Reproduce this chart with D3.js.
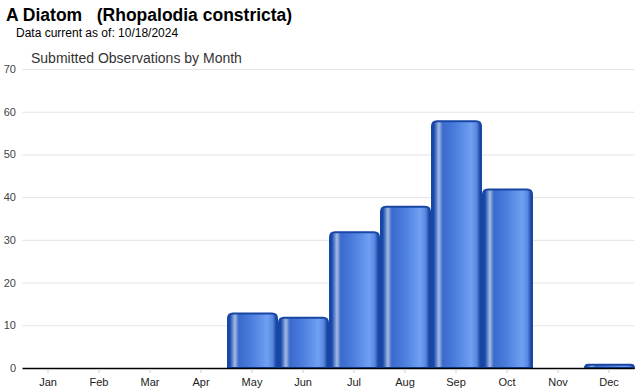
<!DOCTYPE html>
<html><head><meta charset="utf-8">
<script src="https://cdn.jsdelivr.net/npm/d3@7"></script>
<style>body{margin:0;background:#fff;}svg{display:block;font-family:Arial,"Liberation Sans",sans-serif;}</style>
</head><body>
<svg id="c" width="640" height="390"></svg>
<script>
const months = ["Jan","Feb","Mar","Apr","May","Jun","Jul","Aug","Sep","Oct","Nov","Dec"];
const counts = [0,0,0,0,13,12,32,38,58,42,0,1];
const yTicks = [0,10,20,30,40,50,60,70];
const titleText = "A Diatom\u00a0\u00a0\u00a0(Rhopalodia constricta)";
const subText = "Data current as of: 10/18/2024";
const chartTitle = "Submitted Observations by Month";

(function(){
const svg = d3.select("#c");
const pL = 22.5, pR = 634.5, pT = 69, pB = 368;
const x = d3.scaleBand().domain(months).range([pL, pR]).paddingInner(0).paddingOuter(0);
const y = d3.scaleLinear().domain([0,70]).range([pB, pT]);

const defs = svg.append("defs");
const g = defs.append("linearGradient").attr("id","bg").attr("x1","0").attr("x2","1").attr("y1","0").attr("y2","0");
[[0,"#0d3590"],[0.05,"#2456b8"],[0.14,"#a6bbe0"],[0.22,"#3a6acc"],[0.5,"#4e80e0"],[0.8,"#70a0f2"],[0.91,"#5887e2"],[1,"#0f3892"]]
  .forEach(([o,c])=>g.append("stop").attr("offset",o).attr("stop-color",c));

svg.append("g").selectAll("line").data(yTicks.filter(d=>d>0)).join("line")
  .attr("x1",pL).attr("x2",pR).attr("y1",d=>y(d)+0.5).attr("y2",d=>y(d)+0.5)
  .attr("stroke","#e3e3e3").attr("stroke-width",1);

svg.append("g").selectAll("text").data(yTicks).join("text")
  .attr("x",16).attr("y",d=>y(d)+4).attr("text-anchor","end")
  .attr("font-size",11).attr("fill","#444").text(d=>d);

const bw = x.bandwidth();
function barPath(d){
  const x0 = x(d.m)+1.5, x1 = x(d.m)+bw-0.5, y0 = y(d.v)+1, yb = y(0);
  const r = Math.min(5, (yb-y0));
  return `M${x0},${yb}L${x0},${y0+r}Q${x0},${y0} ${x0+r},${y0}L${x1-r},${y0}Q${x1},${y0} ${x1},${y0+r}L${x1},${yb}Z`;
}
svg.append("g").selectAll("path").data(months.map((m,i)=>({m,v:counts[i]})).filter(d=>d.v>0)).join("path")
  .attr("d",barPath).attr("fill","url(#bg)").attr("stroke","#1846a4").attr("stroke-width",2);

svg.append("line").attr("x1",pL).attr("x2",pR).attr("y1",pB+0.5).attr("y2",pB+0.5)
  .attr("stroke","#000").attr("stroke-width",1.5);

const xa = svg.append("g").attr("transform",`translate(0,${pB+1})`)
  .call(d3.axisBottom(x).tickSize(4).tickPadding(5));
xa.select(".domain").remove();
xa.selectAll("line").attr("stroke","#ccc");
xa.selectAll("text").attr("font-size",11).attr("fill","#222").attr("font-family","Arial,'Liberation Sans',sans-serif");

svg.append("text").attr("x",6).attr("y",21).attr("font-size",17.5).attr("font-weight","bold").attr("fill","#000").text(titleText);
svg.append("text").attr("x",16).attr("y",37).attr("font-size",12).attr("fill","#000").text(subText);
svg.append("text").attr("x",31).attr("y",63).attr("font-size",14).attr("fill","#333").text(chartTitle);
})();
</script>
</body></html>
